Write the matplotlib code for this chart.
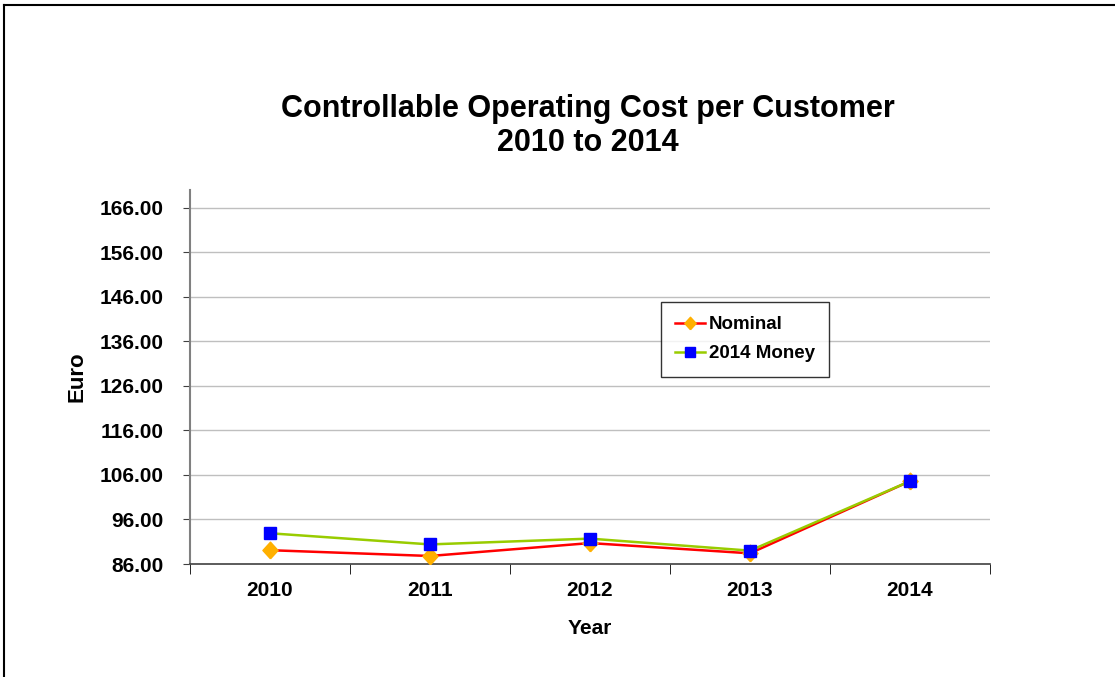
import numpy as np
import matplotlib.pyplot as plt
from matplotlib.lines import Line2D

plt.rcParams['font.family'] = ['Liberation Sans', 'DejaVu Sans']
plt.rcParams['font.weight'] = 'bold'

years = ['2010', '2011', '2012', '2013', '2014']
nominal = [89.1, 87.8, 90.7, 88.4, 104.6]
money_2014 = [92.9, 90.4, 91.7, 89.0, 104.6]
y_ticks = [86, 96, 106, 116, 126, 136, 146, 156, 166]

fig = plt.figure(figsize=(11.15, 6.77), dpi=100)
ax = fig.add_axes([190 / 1115, 1 - 564 / 677, 800 / 1115, (564 - 190) / 677])

# diamond a touch taller than wide, like the original
diamond = [(0, -0.55), (0.5, 0), (0, 0.55), (-0.5, 0), (0, -0.55)]

x = np.arange(len(years))
ax.plot(x, nominal, color='#FF0000', lw=1.8, marker=diamond, ms=12,
        mfc='#FFB000', mec='#FFB000', label='Nominal', zorder=3)
ax.plot(x, money_2014, color='#99CC00', lw=1.8, marker='s', ms=8.5,
        mfc='#0000FF', mec='#0000FF', label='2014 Money', zorder=4)

ax.set_xlim(-0.5, len(years) - 0.5)
ax.set_ylim(86, 170)
ax.set_yticks(y_ticks)
ax.set_yticklabels([f'{v:.2f}' for v in y_ticks], fontsize=15, fontweight='bold')
ax.set_xticks(x)
ax.set_xticklabels(years, fontsize=15, fontweight='bold')
ax.set_xticks(np.arange(-0.5, len(years)), minor=True)
ax.tick_params(axis='x', which='major', length=0, pad=12)
ax.tick_params(axis='x', which='minor', length=7, color='black', direction='out')
ax.tick_params(axis='y', length=5, color='#404040', direction='out', pad=14)

for v in y_ticks[1:]:
    ax.axhline(v, color='#BFBFBF', lw=1, zorder=1)

for s in ['top', 'right']:
    ax.spines[s].set_visible(False)
ax.spines['left'].set_color('#808080')
ax.spines['left'].set_linewidth(1.5)
ax.spines['bottom'].set_color('#404040')
ax.spines['bottom'].set_linewidth(1.2)

ax.set_xlabel('Year', fontsize=15, fontweight='bold', labelpad=14)
ax.set_ylabel('Euro', fontsize=16, fontweight='bold', labelpad=9)

fig.text(588 / 1115, 1 - 126 / 677,
         'Controllable Operating Cost per Customer\n2010 to 2014',
         ha='center', va='center', fontsize=22, fontweight='bold', linespacing=1.15)

leg = ax.legend(loc='upper left', bbox_to_anchor=(661 / 1115, 1 - 302 / 677),
                bbox_transform=fig.transFigure, borderaxespad=0, fontsize=13.5,
                frameon=True, fancybox=False, edgecolor='black', handlelength=1.6,
                handletextpad=0.2, borderpad=0.75, labelspacing=0.65)
leg.get_frame().set_linewidth(1.0)
for t in leg.get_texts():
    t.set_fontweight('bold')
leg.legend_handles[0].set_markersize(9)
leg.legend_handles[1].set_markersize(7.5)

# outer frame (top and left edges visible)
fig.add_artist(Line2D([4 / 1115, 4 / 1115], [0, 1 - 5 / 677], color='black', lw=1.5,
                      transform=fig.transFigure))
fig.add_artist(Line2D([4 / 1115, 1], [1 - 5 / 677, 1 - 5 / 677], color='black', lw=1.5,
                      transform=fig.transFigure))

fig.savefig('out.png', dpi=100)
